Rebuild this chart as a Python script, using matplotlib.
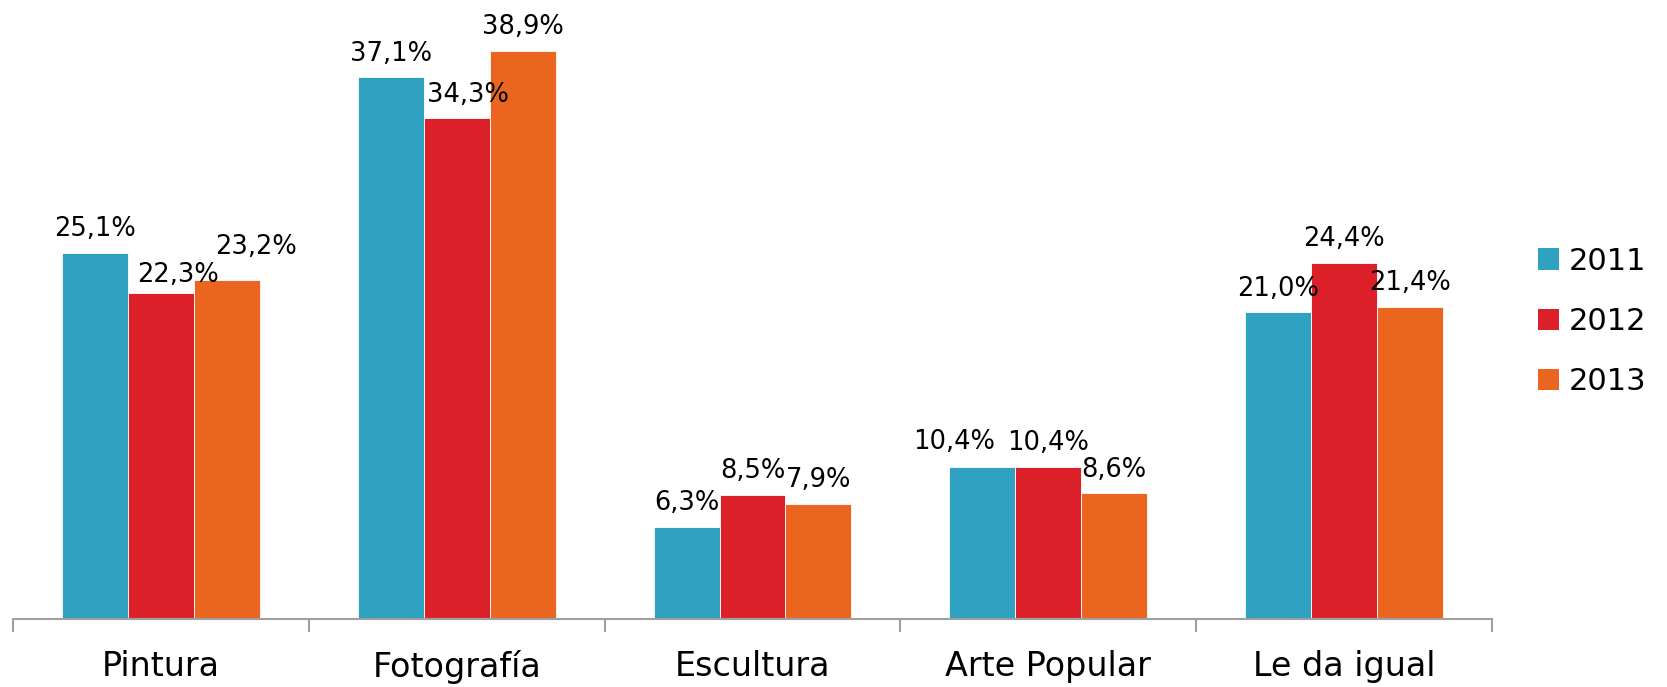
import numpy as np
import matplotlib.pyplot as plt
from matplotlib.patches import Patch

# categorias y porcentajes por año
categories = ['Pintura', 'Fotografía', 'Escultura', 'Arte Popular', 'Le da igual']
years = ['2011', '2012', '2013']
v2011 = [25.1, 37.1, 6.3, 10.4, 21.0]
v2012 = [22.3, 34.3, 8.5, 10.4, 24.4]
v2013 = [23.2, 38.9, 7.9, 8.6, 21.4]
series = [v2011, v2012, v2013]
colors = ['#2EA2C0', '#DB2029', '#EA6620']

# ajuste manual de algunas etiquetas (serie, categoria): (dx, dy) en puntos
label_shift = {(1, 0): (12, 8), (2, 0): (21, 19), (1, 1): (8, 12), (0, 3): (-20, 13)}

plt.rcParams['font.family'] = ['DejaVu Sans']

fig = plt.figure(figsize=(16.67, 6.87), dpi=100)
ax = fig.add_axes([0.0078, 0.099, 0.8872, 0.901])

x = np.arange(len(categories))
w = 0.223
for i, vals in enumerate(series):
    pos = x + (i - 1) * w
    ax.bar(pos, vals, width=w, color=colors[i], edgecolor='white', linewidth=0.6)
    for j, v in enumerate(vals):
        dx, dy = label_shift.get((i, j), (0, 12))
        txt = ('%.1f%%' % v).replace('.', ',')
        ax.annotate(txt, (pos[j], v), xytext=(dx, dy), textcoords='offset points',
                    ha='center', va='baseline', fontsize=18.5, color='black')

ax.set_xlim(-0.5, len(categories) - 0.5)
ax.set_ylim(0, 42.4)
ax.set_yticks([])
for s in ['top', 'right', 'left']:
    ax.spines[s].set_visible(False)
ax.spines['bottom'].set_color('#A0A0A0')
ax.spines['bottom'].set_linewidth(1.5)

ax.set_xticks(x)
ax.set_xticklabels(categories, fontsize=24)
ax.tick_params(axis='x', which='major', length=0, pad=22)
ax.set_xticks(np.arange(len(categories) + 1) - 0.5, minor=True)
ax.tick_params(axis='x', which='minor', length=9.5, width=1.5, color='#A0A0A0')

handles = [Patch(facecolor=c, edgecolor='none') for c in colors]
fig.legend(handles, years, loc='center left', bbox_to_anchor=(0.9226, 0.532),
           frameon=False, fontsize=22, handlelength=0.7, handleheight=0.7,
           handletextpad=0.3, labelspacing=1.03, borderpad=0, borderaxespad=0)

fig.savefig('out.png', dpi=100)
